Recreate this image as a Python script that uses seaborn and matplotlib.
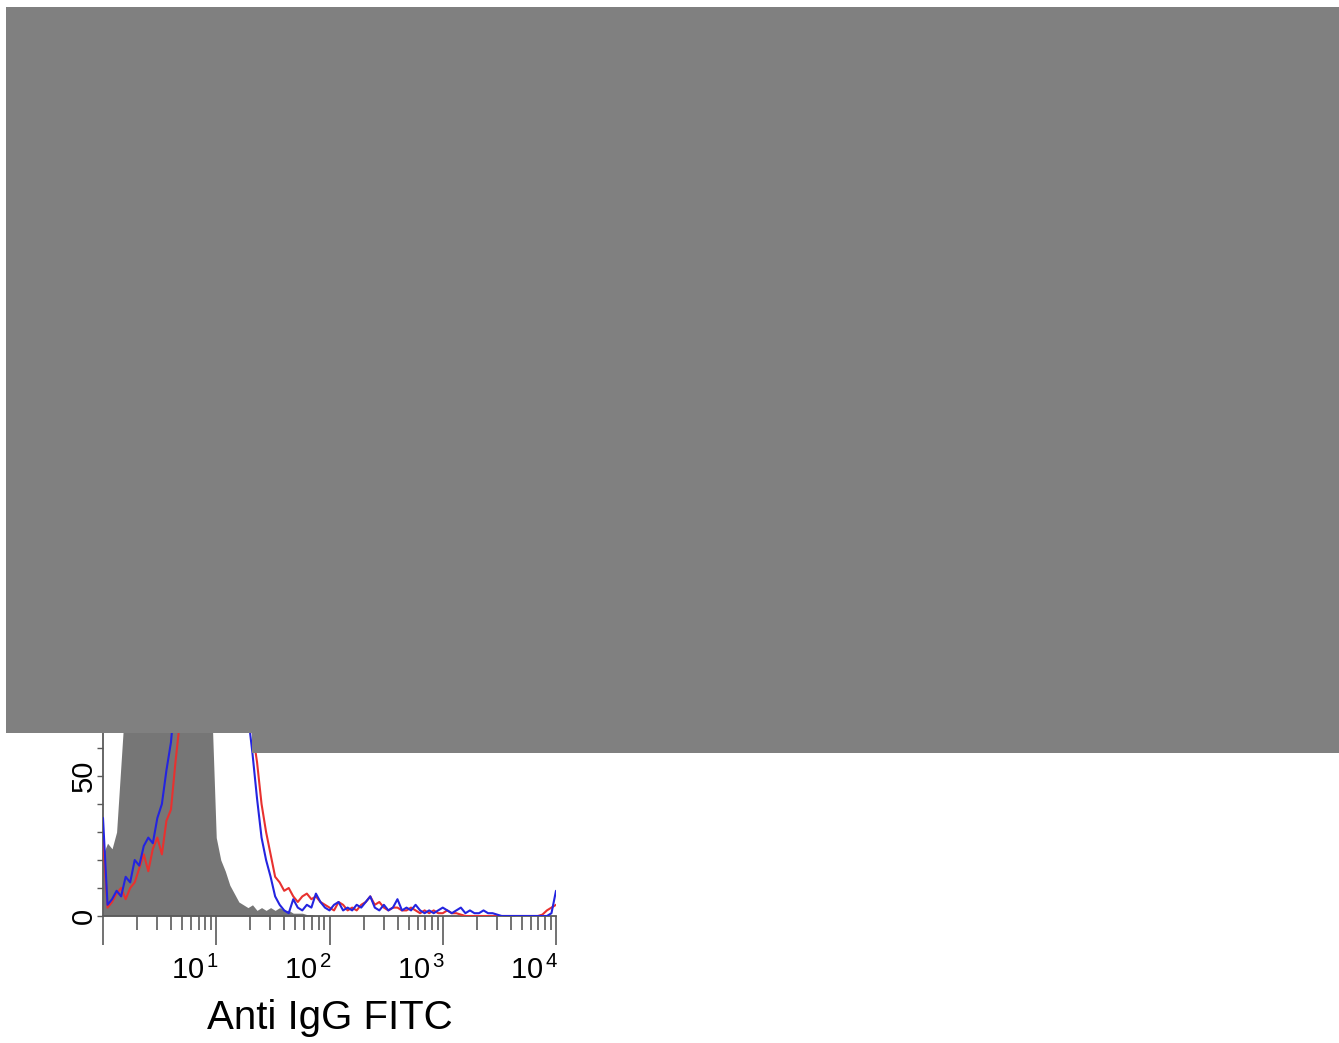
import numpy as np
import pandas as pd
import matplotlib
matplotlib.use("Agg")
import matplotlib.pyplot as plt
import matplotlib.transforms as mtransforms
from matplotlib.patches import Rectangle
from matplotlib.ticker import FixedLocator, FuncFormatter, LogLocator, NullFormatter
import seaborn as sns

# ---------------- data (channel counts on a log10 intensity axis, 25 bins / decade) ----------------
n_points = 101
log_positions = np.linspace(0, 4, n_points)          # 10^0 .. 10^4

isotype_gray = [22, 26, 24, 30, 55, 80, 100, 120, 135, 145,
                150, 155, 158, 160, 158, 155, 150, 145, 135, 125,
                115, 100, 90, 80, 75, 28, 20, 16, 11, 8,
                5, 4, 3, 4, 2, 3, 2, 3, 2, 3,
                2, 2, 1, 1, 1, 0.5, 0.5, 0, 0, 0,
                0, 0, 0, 0, 0, 0, 0, 0, 0, 0,
                0, 0, 0, 0, 0, 0, 0, 0, 0, 0,
                0, 0, 0, 0, 0, 0, 0, 0, 0, 0,
                0, 0, 0, 0, 0, 0, 0, 0, 0, 0.5,
                0.5, 0, 0, 0, 0, 0, 0, 0, 0, 0,
                0]

sample_blue = [35, 4, 6, 9, 7, 14, 12, 20, 18, 25,
               28, 26, 35, 40, 52, 62, 80, 95, 110, 118,
               125, 130, 128, 132, 126, 120, 112, 100, 92, 85,
               78, 70, 72, 58, 42, 28, 20, 14, 7, 4,
               2, 1, 6, 3, 2, 4, 3, 8, 5, 3,
               2, 4, 5, 2, 3, 2, 4, 3, 5, 7,
               3, 2, 4, 2, 3, 6, 2, 3, 2, 4,
               2, 1, 2, 1, 2, 3, 2, 1, 2, 3,
               1, 2, 1, 1, 2, 1, 1, 0.5, 0, 0,
               0, 0, 0, 0, 0, 0, 0, 0, 0, 1,
               9]

sample_red = [28, 3, 5, 8, 10, 6, 10, 12, 17, 22,
              16, 24, 28, 22, 34, 38, 55, 70, 90, 100,
              110, 118, 122, 125, 124, 120, 115, 108, 100, 92,
              85, 78, 72, 66, 55, 40, 30, 22, 14, 12,
              9, 10, 7, 5, 7, 8, 6, 7, 5, 4,
              3, 2, 5, 4, 2, 3, 2, 4, 5, 7,
              4, 5, 3, 2, 3, 3, 2, 2, 3, 2,
              1, 2, 1, 2, 1, 1, 2, 1, 1, 0.5,
              0, 0, 0, 0, 0, 0, 0, 0, 0, 0,
              0, 0, 0, 0, 0, 0, 0, 0.5, 2, 3,
              4]

x_major = [1, 10, 100, 1000, 10000]
x_major_labels = ["", r"$\mathregular{10^{\,1}}$", r"$\mathregular{10^{\,2}}$",
                  r"$\mathregular{10^{\,3}}$", r"$\mathregular{10^{\,4}}$"]
x_label = "Anti IgG FITC"

# ---------------- figure ----------------
sns.set_theme(style="ticks")
plt.rcParams["font.family"] = ["Liberation Sans", "DejaVu Sans"]
plt.rcParams["mathtext.fontset"] = "custom"
plt.rcParams["mathtext.rm"] = "Liberation Sans"

W, H = 1339, 1043
fig = plt.figure(figsize=(W / 100, H / 100), dpi=100, facecolor="white")
ax = fig.add_axes([103 / W, 127 / H, 453 / W, 448 / H])
ax.set_facecolor("white")

df = pd.DataFrame({
    "intensity": 10 ** log_positions,
    "gray": isotype_gray,
    "blue": sample_blue,
    "red": sample_red,
})

ax.set_xscale("log")
ax.fill_between(df["intensity"], 0, df["gray"], color="#767676", linewidth=0, zorder=1)
sns.lineplot(data=df, x="intensity", y="red", ax=ax, color="#e8312f", linewidth=1.5, zorder=3)
sns.lineplot(data=df, x="intensity", y="blue", ax=ax, color="#2424e0", linewidth=1.5, zorder=4)

ax.set_xlim(1, 10000)
ax.set_ylim(0, 160)

# spines
for s in ["top", "right"]:
    ax.spines[s].set_visible(False)
for s in ["left", "bottom"]:
    ax.spines[s].set_color("#5a5a5a")
    ax.spines[s].set_linewidth(1.3)

# x ticks
ax.xaxis.set_major_locator(FixedLocator(x_major))
ax.set_xticklabels(x_major_labels)
ax.xaxis.set_minor_locator(LogLocator(base=10, subs=np.arange(2, 10)))
ax.xaxis.set_minor_formatter(NullFormatter())
ax.tick_params(axis="x", which="major", length=21, width=1.2, color="#5a5a5a",
               direction="out", labelsize=21, pad=8, labelcolor="black")
ax.tick_params(axis="x", which="minor", length=10, width=1.2, color="#5a5a5a", direction="out")
offset = mtransforms.ScaledTranslation(3 / 100, 0, fig.dpi_scale_trans)
for lab in ax.get_xticklabels():
    lab.set_horizontalalignment("right")
    lab.set_transform(lab.get_transform() + offset)

# y ticks
ax.yaxis.set_major_locator(FixedLocator(np.arange(0, 161, 10)))
ax.yaxis.set_major_formatter(FuncFormatter(lambda v, p: f"{int(v)}" if int(v) % 50 == 0 else ""))
ax.tick_params(axis="y", which="major", length=4, width=1.0, color="#5a5a5a",
               direction="out", labelsize=21, pad=3, labelrotation=90, labelcolor="black")
yoffset = mtransforms.ScaledTranslation(5 / 100, 0, fig.dpi_scale_trans)
for lab in ax.get_yticklabels():
    lab.set_verticalalignment("center")
    lab.set_transform(lab.get_transform() + yoffset)

ax.set_xlabel(x_label, fontsize=29, labelpad=10, color="black")
ax.set_ylabel("")

# redaction overlay (grey blocks covering the upper part of the original image)
fig.add_artist(Rectangle((6 / W, (H - 733) / H), (W - 6) / W, (733 - 7) / H,
                         transform=fig.transFigure, facecolor="#808080",
                         edgecolor="none", zorder=20))
fig.add_artist(Rectangle((252 / W, (H - 753) / H), (W - 252) / W, 20 / H,
                         transform=fig.transFigure, facecolor="#808080",
                         edgecolor="none", zorder=20))

fig.savefig("out.png", dpi=100, facecolor="white")
